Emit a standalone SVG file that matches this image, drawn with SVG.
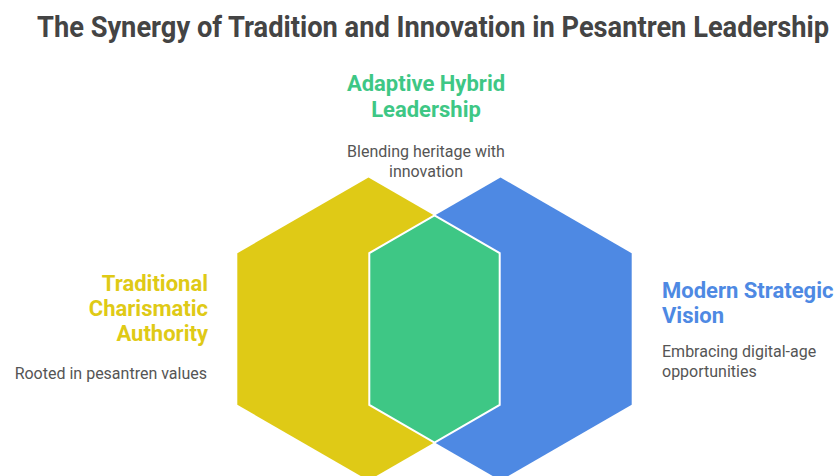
<svg xmlns="http://www.w3.org/2000/svg" width="836" height="476" viewBox="0 0 836 476">
  <style>
    .title { font-family: Roboto, "Liberation Sans", sans-serif; font-weight: 700; font-size: 29px; fill: #444444; }
    .head { font-family: Roboto, "Liberation Sans", sans-serif; font-weight: 700; font-size: 22px; }
    .desc { font-family: Roboto, "Liberation Sans", sans-serif; font-weight: 400; font-size: 16px; fill: #555555; }
    .yellow { fill: #DFCA16; }
    .blue { fill: #4E89E3; }
    .green { fill: #3EC785; }
  </style>
  <rect width="836" height="476" fill="#ffffff"/>
  <text class="title" transform="translate(37,37) scale(0.8,1)" x="0" y="0" textLength="990" lengthAdjust="spacingAndGlyphs">The Synergy of Tradition and Innovation in Pesantren Leadership</text>

  <g id="traditional">
    <polygon class="yellow" points="368.5,177.5 499.7,253.2 499.7,404.8 368.5,480.5 237.3,404.8 237.3,253.2"/>
    <text class="head yellow" text-anchor="end" x="208" y="291">Traditional</text>
    <text class="head yellow" text-anchor="end" x="208" y="316">Charismatic</text>
    <text class="head yellow" text-anchor="end" x="208" y="341">Authority</text>
    <text class="desc" text-anchor="end" x="207" y="379">Rooted in pesantren values</text>
  </g>

  <g id="modern">
    <polygon class="blue" points="500.5,177.5 631.7,253.2 631.7,404.8 500.5,480.5 369.3,404.8 369.3,253.2"/>
    <text class="head blue" x="662" y="298">Modern Strategic</text>
    <text class="head blue" x="662" y="323">Vision</text>
    <text class="desc" x="662" y="357">Embracing digital-age</text>
    <text class="desc" x="662" y="377">opportunities</text>
  </g>

  <g id="adaptive">
    <polygon class="green" points="434.5,215.3 499.7,253.2 499.7,404.8 434.5,442.7 369.3,404.8 369.3,253.2" stroke="#ffffff" stroke-width="2" stroke-linejoin="miter"/>
    <text class="head green" text-anchor="middle" x="426" y="91">Adaptive Hybrid</text>
    <text class="head green" text-anchor="middle" x="426" y="117">Leadership</text>
    <text class="desc" text-anchor="middle" x="426" y="157">Blending heritage with</text>
    <text class="desc" text-anchor="middle" x="426" y="177">innovation</text>
  </g>
</svg>
